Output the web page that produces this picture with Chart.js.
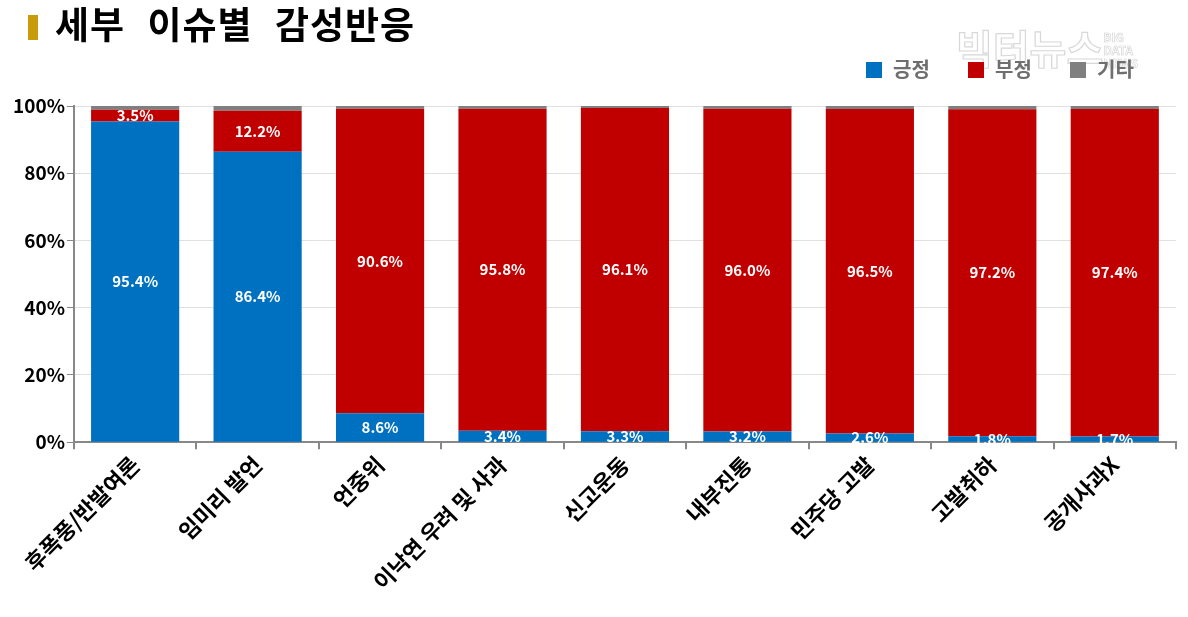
<!DOCTYPE html>
<html>
<head>
<meta charset="utf-8">
<script src="https://cdn.jsdelivr.net/npm/chart.js@4/dist/chart.umd.min.js"></script>
<style>
  body { margin: 0; background: #fff; font-family: "Noto Sans CJK KR", sans-serif; }
  #wrap { position: relative; width: 1188px; height: 617px; }
  #title { position: absolute; left: 28px; top: -4px; font-size: 37px; font-weight: bold; color: #000; letter-spacing: 1px; word-spacing: 13px; }
  #title span.mark { display: inline-block; width: 10px; height: 25px; background: #C89B0A; margin-right: 17px; vertical-align: -1px; }
  #legend { position: absolute; top: 54px; left: 866px; font-size: 20px; color: #6f6f6f; font-weight: bold; }
  #legend span.item { display: inline-block; width: 102px; }
  #legend i { display: inline-block; width: 16px; height: 16px; margin-right: 11px; vertical-align: -1px; }
  #wm { position: absolute; left: 956px; top: 18px; color: #fff; -webkit-text-stroke: 1.2px #d8d8d8; font-size: 40px; font-weight: bold; }
  #wm small { display: inline-block; font-size: 12px; line-height: 13px; vertical-align: top; margin-left: 0; margin-top: 12px; -webkit-text-stroke: 0.6px #d0d0d0; }
  canvas { position: absolute; left: 0; top: 0; }
</style>
</head>
<body>
<div id="wrap">
  <canvas id="barras" width="1188" height="617"></canvas>
  <div id="wm">빅터뉴스<small>BIG<br>DATA<br>NEWS</small></div>
  <div id="title"><span class="mark"></span>세부 이슈별 감성반응</div>
  <div id="legend"><span class="item"><i style="background:#0070C0"></i>긍정</span><span class="item"><i style="background:#C00000"></i>부정</span><span class="item"><i style="background:#7F7F7F"></i>기타</span></div>
</div>
<script>
const categorias = ['후폭풍/반발여론', '임미리 발언', '언중위', '이낙연 우려 및 사과', '신고운동', '내부진통', '민주당 고발', '고발취하', '공개사과X'];
const positivo = [95.4, 86.4, 8.6, 3.4, 3.3, 3.2, 2.6, 1.8, 1.7];
const negativo = [3.5, 12.2, 90.6, 95.8, 96.1, 96.0, 96.5, 97.2, 97.4];
const otros = [1.1, 1.4, 0.8, 0.8, 0.6, 0.8, 0.9, 1.0, 0.9];
const yTicks = ['0%', '20%', '40%', '60%', '80%', '100%'];
const colores = ['#0070C0', '#C00000', '#7F7F7F'];

// white % labels in the middle of the 긍정 / 부정 segments
const etiquetas = {
  id: 'etiquetas',
  afterDatasetsDraw(chart) {
    const ctx = chart.ctx;
    ctx.save();
    ctx.fillStyle = '#fff';
    ctx.font = 'bold 15px "Noto Sans CJK KR", sans-serif';
    ctx.textAlign = 'center';
    ctx.textBaseline = 'middle';
    [0, 1].forEach(function (d) {
      const meta = chart.getDatasetMeta(d);
      meta.data.forEach(function (bar, i) {
        const v = chart.data.datasets[d].data[i];
        const yc = (bar.y + bar.base) / 2;
        ctx.fillText(v.toFixed(1) + '%', bar.x, yc);
      });
    });
    ctx.restore();
  }
};

function grafico_barras() {
  const ctx = document.getElementById('barras');
  new Chart(ctx, {
    type: 'bar',
    data: {
      labels: categorias,
      datasets: [
        { label: '긍정', data: positivo, backgroundColor: colores[0] },
        { label: '부정', data: negativo, backgroundColor: colores[1] },
        { label: '기타', data: otros, backgroundColor: colores[2] }
      ]
    },
    options: {
      responsive: false,
      animation: false,
      layout: { padding: { top: 106, right: 12, left: 11, bottom: 20 } },
      plugins: { legend: { display: false }, tooltip: { enabled: false } },
      datasets: { bar: { categoryPercentage: 0.72, barPercentage: 1 } },
      scales: {
        x: {
          stacked: true,
          offset: true,
          grid: { offset: true, drawOnChartArea: false, tickLength: 7, tickColor: '#888', lineWidth: 2 },
          border: { color: '#888', width: 2 },
          ticks: {
            color: '#000',
            font: { family: '"Noto Sans CJK KR", sans-serif', size: 22, weight: 'bold' },
            maxRotation: 45, minRotation: 45, padding: 2
          }
        },
        y: {
          stacked: true,
          min: 0, max: 100,
          grid: { color: '#e0e0e0', tickColor: '#888', tickLength: 7 },
          border: { color: '#888', width: 2 },
          ticks: {
            stepSize: 20,
            color: '#000',
            padding: 2,
            font: { family: '"Noto Sans CJK KR", sans-serif', size: 19, weight: 'bold' },
            callback: function (v, i) { return yTicks[i]; }
          }
        }
      }
    },
    plugins: [etiquetas]
  });
}

grafico_barras();
</script>
</body>
</html>
